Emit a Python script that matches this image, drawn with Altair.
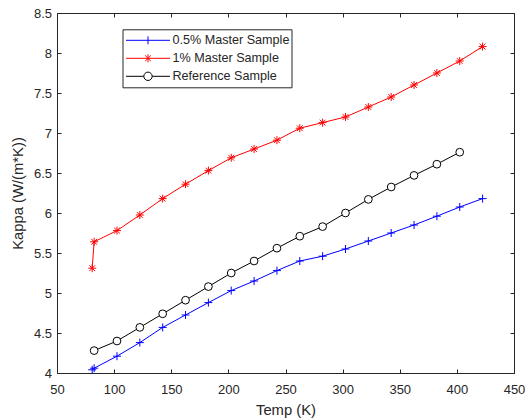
import altair as alt
import pandas as pd

# ---- data ----
temp_master = [80.8, 82.5, 102.5, 122.5, 142.5, 162.5, 182.5, 202.5, 222.5, 242.5,
               262.5, 282.5, 302.5, 322.5, 342.5, 362.5, 382.5, 402.5, 422.5]
kappa_05 = [4.04, 4.06, 4.21, 4.38, 4.57, 4.725, 4.88, 5.03, 5.15, 5.28,
            5.40, 5.46, 5.55, 5.65, 5.75, 5.85, 5.96, 6.075, 6.18]
kappa_1 = [5.31, 5.64, 5.78, 5.975, 6.18, 6.36, 6.53, 6.69, 6.80, 6.91,
           7.06, 7.13, 7.20, 7.325, 7.45, 7.60, 7.75, 7.90, 8.08]
temp_ref = [82.5, 102.5, 122.5, 142.5, 162.5, 182.5, 202.5, 222.5, 242.5,
            262.5, 282.5, 302.5, 322.5, 342.5, 362.5, 382.5, 402.5]
kappa_ref = [4.28, 4.40, 4.57, 4.74, 4.91, 5.08, 5.25, 5.40, 5.56,
             5.71, 5.83, 6.00, 6.17, 6.325, 6.47, 6.61, 6.76]

series_names = ["0.5% Master Sample", "1% Master Sample", "Reference Sample"]
series_colors = ["#0000ff", "#ff0000", "#000000"]
x_ticks = [50, 100, 150, 200, 250, 300, 350, 400, 450]
y_ticks = [4, 4.5, 5, 5.5, 6, 6.5, 7, 7.5, 8, 8.5]

# marker shapes (unit box paths)
plus_path = "M-1,0L1,0M0,-1L0,1"
star_path = "M-1,0L1,0M0,-1L0,1M-0.72,-0.72L0.72,0.72M-0.72,0.72L0.72,-0.72"
# legend symbols: line + marker
leg_plus = "M-1,0L1,0M0,-0.18L0,0.18"
leg_star = "M-1,0L1,0M0,-0.18L0,0.18M-0.13,-0.13L0.13,0.13M-0.13,0.13L0.13,-0.13"
leg_circ = ("M-1,0L-0.19,0M0.19,0L1,0M0.19,0A0.19,0.19,0,1,1,-0.19,0"
            "A0.19,0.19,0,1,1,0.19,0")
legend_paths = [leg_plus, leg_star, leg_circ]

rows = []
for t, k in zip(temp_master, kappa_05):
    rows.append({"temp": t, "kappa": k, "series": series_names[0]})
for t, k in zip(temp_master, kappa_1):
    rows.append({"temp": t, "kappa": k, "series": series_names[1]})
for t, k in zip(temp_ref, kappa_ref):
    rows.append({"temp": t, "kappa": k, "series": series_names[2]})
df = pd.DataFrame(rows)

FONT = "Liberation Sans"
TXT = "#262626"

xscale = alt.Scale(domain=[50, 450], nice=False, zero=False)
yscale = alt.Scale(domain=[4, 8.5], nice=False, zero=False)

x_bottom = alt.X("temp:Q", scale=xscale, axis=alt.Axis(
    orient="bottom", values=x_ticks, format="d", grid=False, domain=False,
    tickSize=4, offset=-4, tickColor=TXT, labelPadding=10, labelFontSize=13,
    labelFont=FONT, labelColor=TXT, title="Temp (K)", titleFont=FONT,
    titleFontSize=14.8, titleFontWeight="normal", titleColor=TXT, titlePadding=6,
    labelFlush=False))
y_left = alt.Y("kappa:Q", scale=yscale, axis=alt.Axis(
    orient="left", values=y_ticks, format=".1~f", grid=False, domain=False,
    tickSize=4, offset=-4, tickColor=TXT, labelPadding=5.5, labelFontSize=13,
    labelFont=FONT, labelColor=TXT, title="Kappa (W/(m*K))", titleFont=FONT,
    titleFontSize=14.8, titleFontWeight="normal", titleColor=TXT, titlePadding=8,
    labelFlush=False))

marker_defs = [
    dict(shape=plus_path, size=64, filled=False, stroke=series_colors[0]),
    dict(shape=star_path, size=64, filled=False, stroke=series_colors[1]),
    dict(shape="circle", size=60, fill="white", stroke=series_colors[2]),
]

layers = []
for i, (name, col) in enumerate(zip(series_names, series_colors)):
    ln = alt.Chart(df).transform_filter(alt.datum.series == name).mark_line(
        strokeWidth=1, color=col
    ).encode(
        x=x_bottom if i == 0 else alt.X("temp:Q", scale=xscale, axis=None),
        y=y_left if i == 0 else alt.Y("kappa:Q", scale=yscale, axis=None),
    )
    layers.append(ln)
for name, md in zip(series_names, marker_defs):
    pts = alt.Chart(df).transform_filter(alt.datum.series == name).mark_point(
        strokeWidth=1, opacity=1, **md
    ).encode(
        x=alt.X("temp:Q", scale=xscale, axis=None),
        y=alt.Y("kappa:Q", scale=yscale, axis=None),
    )
    layers.append(pts)

leg = alt.Legend(
    orient="none", legendX=65.5, legendY=16.3, title=None, padding=2,
    strokeColor="#262626", fillColor="white", symbolSize=1936, symbolStrokeWidth=1,
    symbolOpacity=1, symbolOffset=1, labelOffset=2, labelFontSize=12.6,
    labelFont=FONT, labelColor=TXT, clipHeight=18, rowPadding=0,
)
legend_layer = alt.Chart(df).mark_point(opacity=0, filled=False, size=64).encode(
    x=alt.X("temp:Q", scale=xscale, axis=alt.Axis(
        orient="top", values=x_ticks, labels=False, grid=False, domain=False,
        tickSize=4, offset=-4, tickColor=TXT, title=None)),
    y=alt.Y("kappa:Q", scale=yscale, axis=alt.Axis(
        orient="right", values=y_ticks, labels=False, grid=False, domain=False,
        tickSize=4, offset=-4, tickColor=TXT, title=None)),
    shape=alt.Shape("series:N", scale=alt.Scale(domain=series_names, range=legend_paths),
                    legend=leg),
    color=alt.Color("series:N", scale=alt.Scale(domain=series_names, range=series_colors),
                    legend=leg),
)
layers.append(legend_layer)

chart = alt.layer(*layers).resolve_axis(x="independent", y="independent").properties(
    width=457, height=360,
    padding={"left": 57, "top": 13, "right": 11, "bottom": 47},
    autosize="none",
    background="white",
).configure_view(stroke="#262626", strokeWidth=1)

chart.save("out.html", embed_options={"renderer": "svg", "actions": False})
